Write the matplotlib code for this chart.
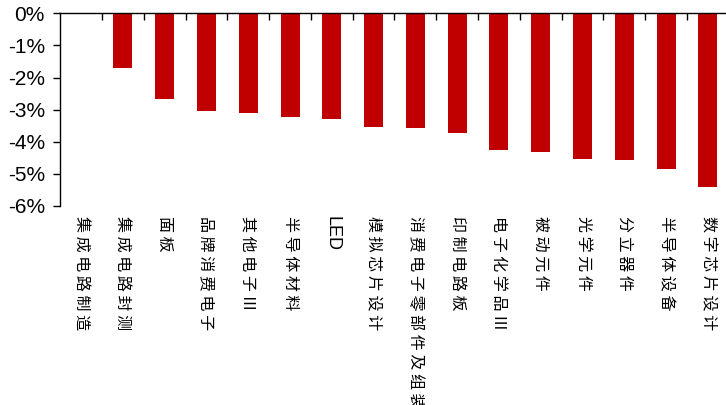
import matplotlib
matplotlib.use("Agg")
import matplotlib.pyplot as plt
from matplotlib.ticker import FuncFormatter
import numpy as np

plt.rcParams['font.family'] = ['Noto Sans CJK SC', 'DejaVu Sans']

categories = ["集成电路制造", "集成电路封测", "面板", "品牌消费电子", "其他电子Ⅲ",
              "半导体材料", "LED", "模拟芯片设计", "消费电子零部件及组装", "印制电路板",
              "电子化学品Ⅲ", "被动元件", "光学元件", "分立器件", "半导体设备", "数字芯片设计"]
values = [0.0, -1.71, -2.67, -3.05, -3.10, -3.22, -3.28, -3.53, -3.56, -3.74,
          -4.25, -4.31, -4.54, -4.56, -4.86, -5.40]

W, H = 726, 405
fig = plt.figure(figsize=(W / 100, H / 100), dpi=100)
x0, x1 = 60.2, 728.8
y0, y1 = 13.3, 206
ax = fig.add_axes([x0 / W, 1 - y1 / H, (x1 - x0) / W, (y1 - y0) / H])

x = np.arange(len(categories))
ax.bar(x, values, width=0.455, color="#C00000")

ax.set_xlim(-0.5, len(categories) - 0.5)
ax.set_ylim(-6, 0)

for s in ["top", "right"]:
    ax.spines[s].set_visible(False)
ax.spines["bottom"].set_position(("data", 0))
ax.spines["bottom"].set_linewidth(1.0)
ax.spines["left"].set_linewidth(1.0)

ax.set_xticks(np.arange(0.5, len(categories) - 0.5))
ax.set_xticklabels([])
ax.tick_params(axis="x", direction="out", length=5, width=1)
ax.set_yticks(np.arange(-6, 1, 1))
ax.yaxis.set_major_formatter(FuncFormatter(lambda v, p: "%d%%" % v))
ax.tick_params(axis="y", direction="out", length=5, width=1, pad=6)
for lab in ax.get_yticklabels():
    lab.set_fontfamily("Liberation Sans")
    lab.set_fontsize(15)

for i, name in enumerate(categories):
    if name == "LED":
        txt = name
        fam = ["Liberation Sans"]
        fs = 13
    else:
        txt = " ".join(name)
        fam = ["Noto Sans CJK SC", "DejaVu Sans"]
        fs = 11.5
    ax.text(i, -6.3, txt, rotation=270, ha="center", va="top", fontsize=fs,
            family=fam, clip_on=False)

fig.savefig("out.png", dpi=100)
